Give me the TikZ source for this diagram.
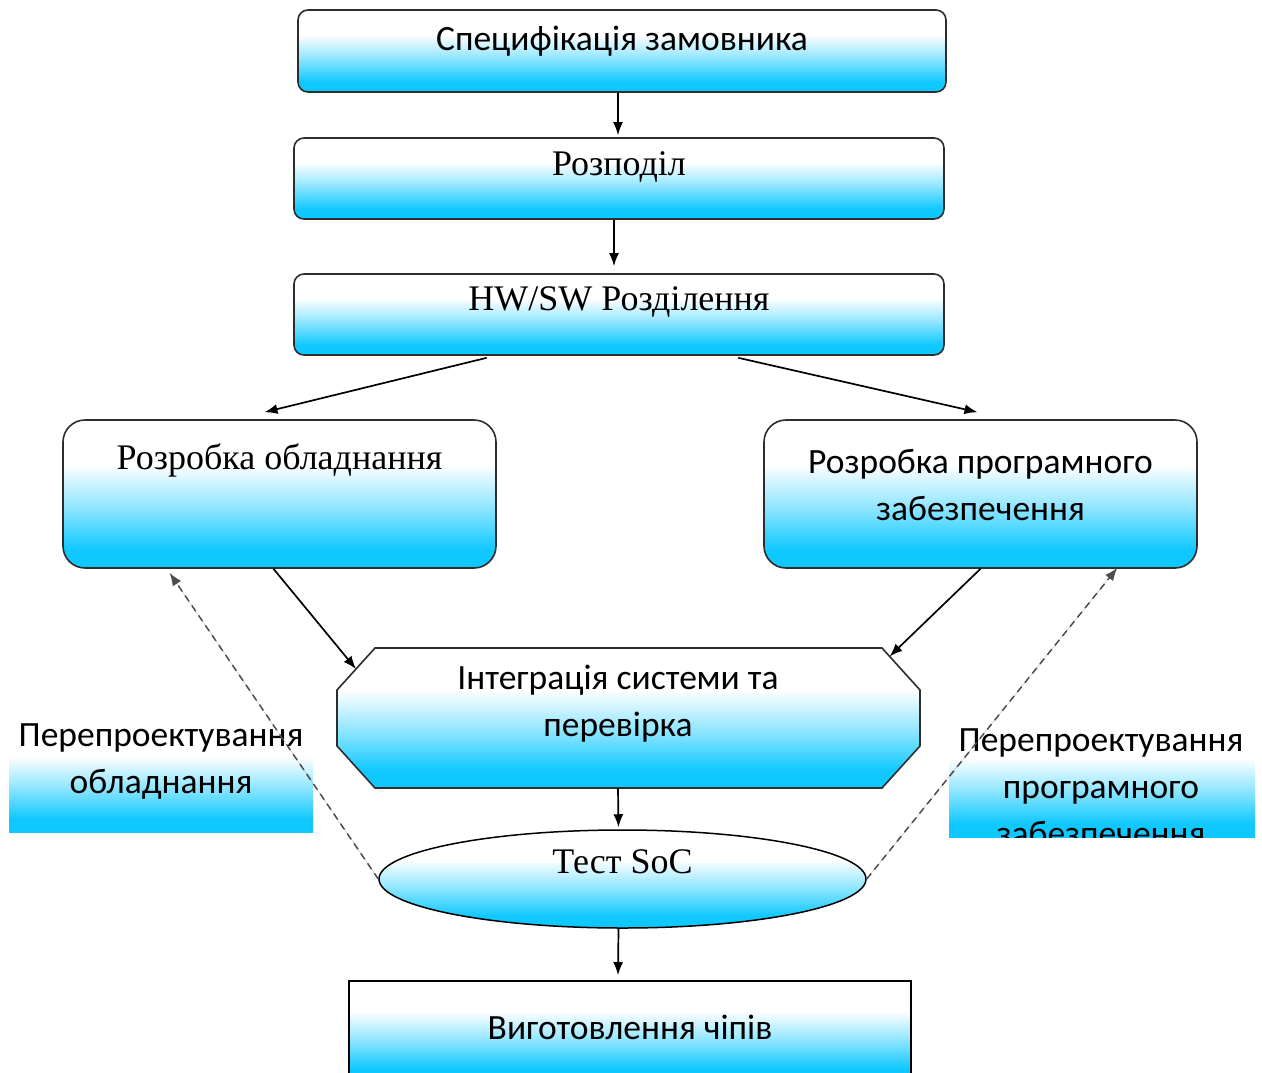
\documentclass[tikz,border=0pt]{standalone}
\usepackage{fontspec}
\setmainfont{Liberation Serif}
\newfontfamily\sansua{Carlito}
\usetikzlibrary{shapes.geometric,calc,arrows.meta}
\definecolor{skyfill}{RGB}{15,200,255}
\definecolor{edgegray}{RGB}{45,45,45}
% white at the top, sky blue at the bottom
\pgfdeclareverticalshading{glossy}{100bp}{color(0bp)=(skyfill); color(31bp)=(skyfill); color(46bp)=(skyfill!45!white); color(60bp)=(white); color(100bp)=(white)}
\begin{document}
\begin{tikzpicture}[x=1pt,y=-1pt,
  box/.style={draw=edgegray, line width=1.6pt, shading=glossy, rounded corners=10pt, inner sep=0pt},
  plain/.style={shading=glossy, inner sep=0pt},
  sanstext/.style={font=\sansua\fontsize{35.5}{47}\selectfont, align=center, inner sep=0pt},
  seriftext/.style={font=\fontsize{36}{44}\selectfont, align=center, inner sep=0pt},
  arr/.style={-{Latex[length=13pt,width=10pt]}, line width=1.7pt, black},
  dasharr/.style={-{Latex[length=13pt,width=10pt]}, line width=1.5pt, draw=black!70, fill=black!70, dash pattern=on 7pt off 5pt}
]
\clip (0,0) rectangle (1262,1072);
\fill[white] (0,0) rectangle (1262,1072);

% main flow boxes
\node[box, minimum width=648pt, minimum height=82pt,
  label={[sanstext, name=specT, yshift=10pt]center:Специфікація замовника}] (spec) at (622,51) {};
\node[box, minimum width=650pt, minimum height=81pt,
  label={[seriftext, name=distT, yshift=11pt]center:Розподіл}] (dist) at (619,178.5) {};
\node[box, minimum width=650pt, minimum height=81pt,
  label={[seriftext, name=hwT, yshift=12pt]center:HW/SW Розділення}] (hw) at (619,314.5) {};
\node[box, rounded corners=22pt, minimum width=433pt, minimum height=148pt,
  label={[seriftext, name=hwdevT, yshift=34pt]center:Розробка обладнання}] (hwdev) at (279.5,494) {};
\node[box, rounded corners=22pt, minimum width=433pt, minimum height=148pt,
  label={[sanstext, name=swdevT, yshift=8.5pt]center:Розробка програмного\\забезпечення}] (swdev) at (980.5,494) {};

% integration block (octagon)
\coordinate (o1) at (375,648);
\coordinate (o2) at (882,648);
\coordinate (o3) at (920,690);
\coordinate (o4) at (920,746);
\coordinate (o5) at (882,788);
\coordinate (o6) at (375,788);
\coordinate (o7) at (337,746);
\coordinate (o8) at (337,690);
\draw[draw=edgegray, line width=1.6pt, shading=glossy] (o1)--(o2)--(o3)--(o4)--(o5)--(o6)--(o7)--(o8)--cycle;
\node[sanstext] (integ) at (618,704) {Інтеграція системи та\\перевірка};

% test ellipse
\node[ellipse, draw=black, line width=1.5pt, shading=glossy, minimum width=487pt, minimum height=98pt, inner sep=0pt,
  label={[seriftext, name=testT, yshift=17pt]center:Тест SoC}] (test) at (622.5,879) {};

% chip manufacturing box
\node[draw=black, line width=1.6pt, shading=glossy, minimum width=562pt, minimum height=100pt, inner sep=0pt,
  label={[sanstext, name=chipsT, yshift=4pt]center:Виготовлення чіпів}] (chips) at (630,1031) {};

% redesign labels
\node[plain, minimum width=304pt, minimum height=108pt,
  label={[sanstext, name=llabT, yshift=16.5pt]center:Перепроектування\\обладнання}] (llab) at (161,778) {};
\node[plain, minimum width=306pt, minimum height=113pt] (rlab) at (1102,780.5) {};
\begin{scope}
  \clip (rlab.south west) rectangle (rlab.north east);
  \node[sanstext] (rlabT) at (1101,787) {Перепроектування\\програмного\\забезпечення};
\end{scope}

% connectors
\draw[arr] ([xshift=-4pt]spec.south) -- ([xshift=-1pt,yshift=2pt]dist.north);
\draw[arr] ([xshift=-5pt]dist.south) -- ([xshift=-5pt,yshift=7pt]hw.north);
\draw[arr] ($(hw.south west)!0.297!(hw.south east)+(0,2)$) -- ([xshift=-15pt,yshift=7pt]hwdev.north);
\draw[arr] ($(hw.south west)!0.683!(hw.south east)+(0,2)$) -- ([xshift=-3pt,yshift=7pt]swdev.north);
\draw[arr] ([xshift=-6pt]hwdev.south) -- ($(o8)!0.5!(o1)$);
\draw[arr] (swdev.south) -- ($(o2)!0.2!(o3)$);
\draw[arr] (integ |- o6) -- ([xshift=-4pt,yshift=2pt]test.north);
\draw[arr] ([xshift=-4pt]test.south) -- ([xshift=-12pt,yshift=5pt]chips.north);
\draw[dasharr] (test.west) -- ($(hwdev.south west)!0.247!(hwdev.south east)+(0,4)$);
\draw[dasharr] (test.east) -- ($(swdev.south west)!0.815!(swdev.south east)+(0,-1)$);
\end{tikzpicture}
\end{document}
